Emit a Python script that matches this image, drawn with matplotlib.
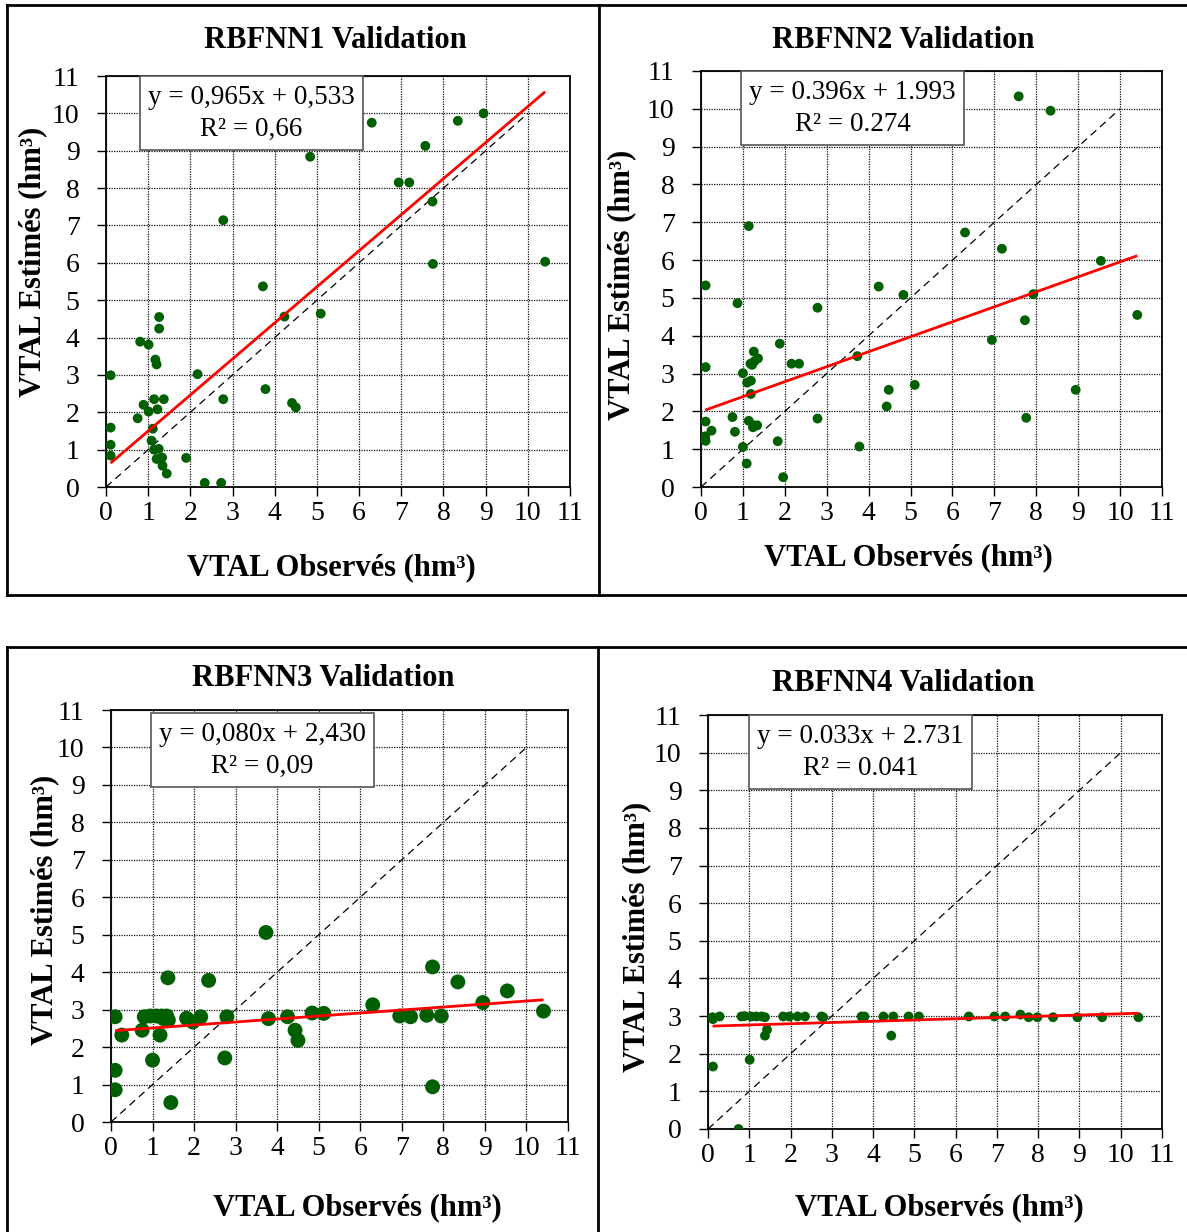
import matplotlib
matplotlib.use("Agg")
import matplotlib.pyplot as plt
from matplotlib.lines import Line2D
from matplotlib.patches import Rectangle

plt.rcParams['font.family'] = ['Liberation Serif', 'DejaVu Serif']

W, H = 1187, 1232

# ---- data: observed vs estimated volumes (hm3) ----
obs1 = [0.11, 0.11, 0.11, 0.11, 0.75, 0.81, 0.89, 1.01, 1.01, 1.08, 1.11, 1.14, 1.14, 1.17, 1.20, 1.20,
        1.22, 1.25, 1.26, 1.26, 1.33, 1.34, 1.37, 1.44, 1.90, 2.17, 2.34, 2.73, 2.78, 2.78, 3.72, 3.78,
        4.23, 4.41, 4.50, 4.84, 5.09, 6.30, 6.94, 7.19, 7.57, 7.74, 7.75, 8.34, 8.95, 10.41]
est1 = [2.99, 1.59, 1.13, 0.84, 1.84, 3.89, 2.20, 3.81, 2.02, 1.24, 1.56, 2.35, 1.00, 3.41, 3.28, 0.75,
        2.08, 1.02, 4.55, 4.24, 0.79, 0.57, 2.35, 0.36, 0.78, 3.02, 0.11, 0.11, 7.14, 2.35, 5.37, 2.62,
        4.56, 2.25, 2.13, 8.84, 4.64, 9.75, 8.15, 8.15, 9.13, 7.64, 5.97, 9.80, 10.00, 6.03]

obs2 = [0.10, 0.11, 0.11, 0.11, 0.11, 0.25, 0.75, 0.81, 0.87, 1.00, 1.00, 1.09, 1.10, 1.14, 1.14, 1.18,
        1.19, 1.19, 1.22, 1.24, 1.26, 1.26, 1.27, 1.34, 1.36, 1.83, 1.88, 1.96, 2.16, 2.34, 2.78, 2.78,
        3.73, 3.78, 4.24, 4.43, 4.48, 4.83, 5.10, 6.30, 6.94, 7.18, 7.58, 7.73, 7.76, 7.93, 8.34, 8.94,
        9.54, 10.41]
est2 = [1.34, 1.22, 1.73, 3.17, 5.33, 1.49, 1.85, 1.46, 4.86, 3.01, 1.06, 0.62, 2.76, 6.90, 1.75, 3.26,
        2.81, 2.46, 3.23, 1.58, 3.58, 1.63, 3.32, 1.63, 3.40, 1.21, 3.79, 0.26, 3.26, 3.26, 4.74, 1.81,
        3.46, 1.07, 5.30, 2.13, 2.57, 5.08, 2.70, 6.73, 3.89, 6.30, 10.33, 4.41, 1.83, 5.10, 9.95, 2.57,
        5.98, 4.55]

obs3 = [0.10, 0.10, 0.10, 0.26, 0.75, 0.80, 0.94, 1.00, 1.10, 1.18, 1.22, 1.26, 1.34, 1.37, 1.38, 1.44,
        1.82, 1.97, 2.16, 2.35, 2.74, 2.79, 3.73, 3.79, 4.25, 4.43, 4.50, 4.84, 5.12, 6.30, 6.95, 7.21,
        7.60, 7.74, 7.74, 7.95, 8.35, 8.95, 9.54, 10.41]
est3 = [2.81, 1.38, 0.86, 2.32, 2.45, 2.81, 2.83, 1.65, 2.83, 2.32, 2.83, 2.76, 2.83, 3.85, 2.72, 0.52,
        2.77, 2.67, 2.81, 3.78, 1.71, 2.81, 5.06, 2.76, 2.81, 2.45, 2.18, 2.91, 2.90, 3.13, 2.83, 2.81,
        2.85, 4.14, 0.94, 2.83, 3.74, 3.19, 3.50, 2.96]

obs4 = [0.11, 0.12, 0.12, 0.28, 0.74, 0.81, 0.89, 1.01, 1.05, 1.17, 1.30, 1.38, 1.38, 1.43, 1.82, 1.97,
        2.17, 2.35, 2.75, 2.79, 3.72, 3.79, 4.25, 4.44, 4.49, 4.86, 5.11, 6.32, 6.94, 7.20, 7.57, 7.77,
        7.98, 8.36, 8.95, 9.55, 10.43]
est4 = [2.97, 2.92, 1.66, 2.99, 0.00, 2.99, 3.00, 1.84, 2.99, 2.99, 2.99, 2.97, 2.48, 2.64, 2.99, 2.99,
        2.99, 2.99, 2.99, 2.97, 2.99, 2.99, 2.99, 2.48, 2.99, 2.99, 2.99, 2.99, 2.99, 2.99, 3.04, 2.97,
        2.97, 2.97, 2.97, 2.97, 2.97]

titles = ["RBFNN1 Validation", "RBFNN2 Validation", "RBFNN3 Validation", "RBFNN4 Validation"]
slopes = [0.965, 0.396, 0.080, 0.033]
intercepts = [0.533, 1.993, 2.430, 2.731]
eq_labels = ["y = 0,965x + 0,533", "y = 0.396x + 1.993", "y = 0,080x + 2,430", "y = 0.033x + 2.731"]
r2_labels = ["R² = 0,66", "R² = 0.274", "R² = 0,09", "R² = 0.041"]
xlabel = "VTAL Observés (hm³)"
ylabel = "VTAL Estimés (hm³)"
ticks = list(range(0, 12))

# ---- layout (pixels) ----
axes_px = [(106, 76, 570, 487), (701, 71, 1162, 487), (111, 710, 568, 1122), (708, 715, 1162, 1129)]
title_px = [(335, 37), (903, 37), (323, 675), (903, 680)]
xlabel_px = [(331, 568), (908, 558), (357, 1208), (939, 1208)]
ylabel_px = [(33, 262), (622, 285), (45, 910), (637, 937)]
box_px = [(140, 76, 363, 150), (741, 71, 964, 145), (151, 713, 374, 787), (749, 715, 972, 789)]
marker_s = [50, 50, 115, 50]

fig = plt.figure(figsize=(W / 100, H / 100), dpi=100)
GREEN = "#005f00"


def fx(x):
    return x / W


def fy(y):
    return 1 - y / H


datasets = [(obs1, est1), (obs2, est2), (obs3, est3), (obs4, est4)]

for i, (obs, est) in enumerate(datasets):
    l, t, r, b = axes_px[i]
    ax = fig.add_axes([fx(l), fy(b), (r - l) / W, (b - t) / H])
    ax.set_xlim(0, 11)
    ax.set_ylim(0, 11)
    ax.set_xticks(ticks)
    ax.set_yticks(ticks)
    ax.grid(True, color="#111111", linestyle=(0, (1, 1)), linewidth=0.9)
    ax.set_axisbelow(True)
    for sp in ax.spines.values():
        sp.set_linewidth(1.3)
        sp.set_color("black")
    ax.tick_params(axis="y", direction="out", length=6.5, width=1.0, pad=12.5, labelsize=20)
    ax.tick_params(axis="x", direction="out", length=6.5, width=1.0, pad=3.5, labelsize=20)

    # 1:1 reference line
    ax.plot([0, 10], [0, 10], color="black", linestyle=(0, (6, 4)), linewidth=0.9, zorder=2)
    # observations
    ax.scatter(obs, est, s=marker_s[i], color=GREEN, edgecolors="none", zorder=3)
    # linear fit
    x0, x1 = min(obs), max(obs)
    ax.plot([x0, x1], [slopes[i] * x0 + intercepts[i], slopes[i] * x1 + intercepts[i]],
            color="red", linewidth=2.0, zorder=4, solid_capstyle="butt")

    # equation box
    bl, bt, br, bb = box_px[i]
    fig.add_artist(Rectangle((fx(bl), fy(bb)), (br - bl) / W, (bb - bt) / H,
                             transform=fig.transFigure, facecolor="white",
                             edgecolor="#555555", linewidth=1.2, zorder=5))
    cx = (bl + br) / 2
    fig.text(fx(cx), fy(bt + 0.29 * (bb - bt)), eq_labels[i], ha="center", va="center",
             fontsize=19.5, zorder=6)
    fig.text(fx(cx), fy(bt + 0.72 * (bb - bt)), r2_labels[i], ha="center", va="center",
             fontsize=19.5, zorder=6)

    fig.text(fx(title_px[i][0]), fy(title_px[i][1]), titles[i], ha="center", va="center_baseline",
             fontsize=22, fontweight="bold")
    fig.text(fx(xlabel_px[i][0]), fy(xlabel_px[i][1]), xlabel, ha="center", va="center",
             fontsize=22, fontweight="bold")
    fig.text(fx(ylabel_px[i][0]), fy(ylabel_px[i][1]), ylabel, ha="center", va="center",
             fontsize=22, fontweight="bold", rotation=90)

# panel frames
frame_lines = [
    ((7, 7), (5, 595)), ((7, 1187), (5, 5)), ((7, 1187), (595, 595)), ((598.5, 598.5), (5, 595)),
    ((7, 1187), (647, 647)), ((7, 7), (647, 1232)), ((597.5, 597.5), (647, 1232)),
]
for (xs, ys) in frame_lines:
    fig.add_artist(Line2D([fx(xs[0]), fx(xs[1])], [fy(ys[0]), fy(ys[1])],
                          transform=fig.transFigure, color="black", linewidth=2.0,
                          solid_capstyle="projecting"))

fig.savefig("out.png", dpi=100)
